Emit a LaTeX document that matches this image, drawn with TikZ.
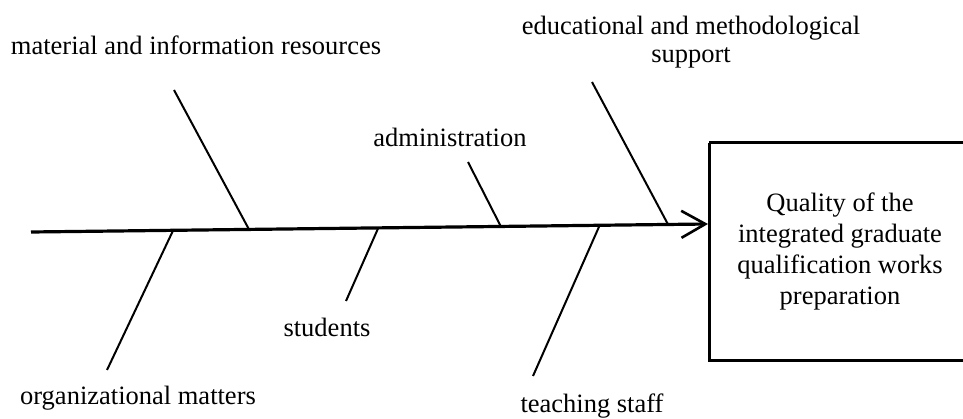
\documentclass[tikz,border=0pt]{standalone}
\usepackage{fontspec}
\setmainfont{Liberation Serif}
\usetikzlibrary{arrows.meta,calc}

\begin{document}
\begin{tikzpicture}[x=1pt,y=-1pt,
	cause/.style={font=\fontsize{26.5}{28}\selectfont,inner sep=0pt,align=center},
	bone/.style={line width=2pt},
	backbone/.style={line width=3.2pt,-{Straight Barb[length=24pt,width=27pt,line width=2.6pt]}},
	frame/.style={draw,line width=3pt},
	effect/.style={inner sep=0pt,font=\fontsize{26.5}{31}\selectfont,align=center}]
	
	\useasboundingbox (0,0) rectangle (963,419);
	
	\coordinate (tail) at (31,232);
	\coordinate (head) at (708,224);
	
	\node [effect] (quality) at (840,251.5) {Quality of the\\integrated graduate\\qualification works\\preparation};
	\draw [frame] ($(quality.center)+(-131,-108.5)$) -- ++(260,0)
		($(quality.center)+(-131,-108.5)$) -- ++(0,217) -- ++(260,0);
	
	\draw [backbone] (tail) -- (head);
	
	%%%%%%%%%%%%%%%%%%%%%%%%%%%%%%%%%%%%%%%%%%%%%%%%%%%%%%
	
	\coordinate (mat-root) at ($(tail)!0.322!(head)$);
	\coordinate (mat-end) at (174,90);
	\node [cause,anchor=base] (mat-text) at (196,55) {material and information resources};
	\draw [bone] (mat-root) -- (mat-end);
	%
	\coordinate (adm-root) at ($(tail)!0.694!(head)$);
	\coordinate (adm-end) at (468,162);
	\node [cause,anchor=base] (adm-text) at (450,147) {administration};
	\draw [bone] (adm-root) -- (adm-end);
	%
	\coordinate (edu-root) at ($(tail)!0.941!(head)$);
	\coordinate (edu-end) at (592,82);
	\node [cause] (edu-text) at (691,42) {educational and methodological\\support};
	\draw [bone] (edu-root) -- (edu-end);
	
	%%%%%%%%%%%%%%%%%%%%%%%%%%%%%%%%%%%%%%%%%%%%%%%%%%%%%%
	
	\coordinate (org-root) at ($(tail)!0.210!(head)$);
	\coordinate (org-end) at (107,370);
	\node [cause,anchor=base] (org-text) at (138,404) {organizational matters};
	\draw [bone] (org-root) -- (org-end);
	%
	\coordinate (stu-root) at ($(tail)!0.513!(head)$);
	\coordinate (stu-end) at (346,301);
	\node [cause,anchor=base] (stu-text) at (327,337) {students};
	\draw [bone] (stu-root) -- (stu-end);
	%
	\coordinate (tea-root) at ($(tail)!0.840!(head)$);
	\coordinate (tea-end) at (533,376);
	\node [cause,anchor=base] (tea-text) at (592,412) {teaching staff};
	\draw [bone] (tea-root) -- (tea-end);
	
\end{tikzpicture}
\end{document}
